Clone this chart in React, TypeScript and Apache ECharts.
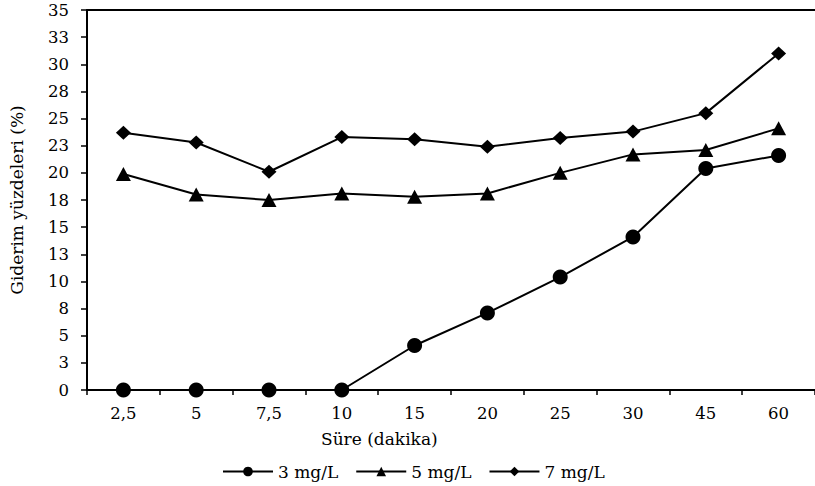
import React, { useEffect, useRef } from "react";
import * as echarts from "echarts";

const categories = ["2,5", "5", "7,5", "10", "15", "20", "25", "30", "45", "60"];
const series3 = [0, 0, 0, 0, 4.1, 7.1, 10.4, 14.1, 20.4, 21.6];
const series5 = [19.9, 18.0, 17.5, 18.1, 17.8, 18.1, 20.0, 21.7, 22.1, 24.1];
const series7 = [23.7, 22.8, 20.1, 23.3, 23.1, 22.4, 23.2, 23.8, 25.5, 31.0];
const yTickLabels = ["0", "3", "5", "8", "10", "13", "15", "18", "20", "23", "25", "28", "30", "33", "35"];
const seriesNames = ["3 mg/L", "5 mg/L", "7 mg/L"];

const FONT = "DejaVu Serif";

export default function App() {
  const ref = useRef<HTMLDivElement>(null);
  useEffect(() => {
    if (!ref.current) return;
    const chart = echarts.init(ref.current, null, { renderer: "svg" });
    const lineSeries = (name: string, data: number[], symbol: string, size: any) => ({
      name,
      type: "line",
      data,
      symbol,
      symbolSize: size,
      clip: false,
      itemStyle: { color: "#000" },
      lineStyle: { color: "#000", width: 2 },
    });
    chart.setOption({
      animation: false,
      backgroundColor: "#fff",
      textStyle: { fontFamily: FONT, color: "#000" },
      grid: { left: 87, top: 10, width: 734, height: 380, containLabel: false },
      legend: {
        data: seriesNames,
        left: 222,
        top: 463,
        padding: 0,
        itemWidth: 50,
        itemHeight: 12,
        itemGap: 17,
        textStyle: { fontFamily: FONT, fontSize: 17, color: "#000" },
      },
      xAxis: [
        {
          type: "category",
          data: categories,
          boundaryGap: true,
          axisLine: { lineStyle: { color: "#000", width: 2 } },
          axisTick: { show: true, length: 5, lineStyle: { color: "#000", width: 1.5 } },
          axisLabel: { color: "#000", fontFamily: FONT, fontSize: 16.5, margin: 15 },
          splitLine: { show: false },
        },
        {
          type: "category",
          data: categories,
          position: "top",
          axisLine: { lineStyle: { color: "#000", width: 2 } },
          axisTick: { show: false },
          axisLabel: { show: false },
        },
      ],
      yAxis: {
        type: "value",
        min: 0,
        max: 35,
        interval: 2.5,
        name: "Giderim yüzdeleri (%)",
        nameLocation: "middle",
        nameGap: 62,
        nameTextStyle: { fontFamily: FONT, fontSize: 17, color: "#000" },
        axisLine: { show: true, lineStyle: { color: "#000", width: 2 } },
        axisTick: { show: true, length: 6, lineStyle: { color: "#000", width: 1.5 } },
        axisLabel: {
          color: "#000",
          fontFamily: FONT,
          fontSize: 16.5,
          margin: 18,
          formatter: (v: number) => yTickLabels[Math.round(v / 2.5)] ?? "",
        },
        splitLine: { show: false },
      },
      graphic: [
        {
          type: "text",
          left: 321,
          top: 430,
          style: { text: "Süre (dakika)", fontFamily: FONT, fontSize: 17, fill: "#000" },
        },
      ],
      series: [
        lineSeries(seriesNames[0], series3, "circle", 15),
        lineSeries(seriesNames[1], series5, "triangle", [15, 14]),
        lineSeries(seriesNames[2], series7, "diamond", [15, 14]),
      ],
    });
    return () => chart.dispose();
  }, []);
  return (
    <div
      ref={ref}
      style={{ position: "fixed", left: 0, top: 0, width: 815, height: 486, background: "#fff" }}
    />
  );
}
